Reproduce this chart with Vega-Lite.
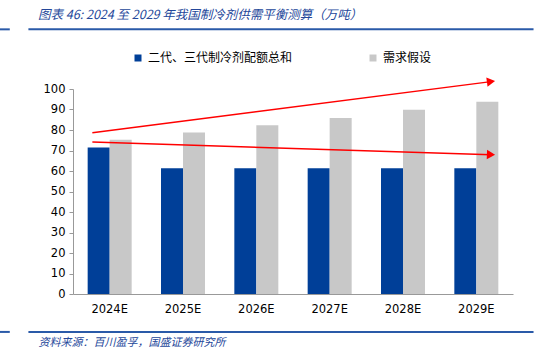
{
  "$schema": "https://vega.github.io/schema/vega-lite/v6.json",
  "width": 440,
  "height": 205,
  "autosize": {"type": "none"},
  "padding": {"left": 73, "top": 89, "right": 21, "bottom": 62},
  "background": "#ffffff",
  "title": {
    "text": "图表 46:  2024 至 2029 年我国制冷剂供需平衡测算（万吨）",
    "anchor": "start",
    "frame": "group",
    "dx": -35,
    "offset": 7,
    "font": "Noto Sans CJK SC",
    "fontSize": 12.5,
    "fontStyle": "italic",
    "fontWeight": "normal",
    "color": "#24479a"
  },
  "datasets": {
    "bars": [
      {"year": "2024E", "series": "二代、三代制冷剂配额总和", "value": 71.5},
      {"year": "2024E", "series": "需求假设", "value": 75.3},
      {"year": "2025E", "series": "二代、三代制冷剂配额总和", "value": 61.3},
      {"year": "2025E", "series": "需求假设", "value": 78.8},
      {"year": "2026E", "series": "二代、三代制冷剂配额总和", "value": 61.3},
      {"year": "2026E", "series": "需求假设", "value": 82.3},
      {"year": "2027E", "series": "二代、三代制冷剂配额总和", "value": 61.3},
      {"year": "2027E", "series": "需求假设", "value": 85.9},
      {"year": "2028E", "series": "二代、三代制冷剂配额总和", "value": 61.3},
      {"year": "2028E", "series": "需求假设", "value": 89.9},
      {"year": "2029E", "series": "二代、三代制冷剂配额总和", "value": 61.3},
      {"year": "2029E", "series": "需求假设", "value": 93.8}
    ],
    "arrows": [
      {"id": "up", "px": 0.264, "py": 78.7},
      {"id": "up", "px": 5.70, "py": 103.6},
      {"id": "down", "px": 0.264, "py": 74.1},
      {"id": "down", "px": 5.70, "py": 67.95}
    ],
    "heads": [
      {"id": "up", "px": 5.70, "py": 103.6, "ang": -7.3},
      {"id": "down", "px": 5.70, "py": 67.95, "ang": 1.8}
    ],
    "rules": [
      {"x1": -1.0, "x2": -0.862, "y": 129.1},
      {"x1": -0.608, "x2": 6.28, "y": 129.1},
      {"x1": -1.0, "x2": -0.862, "y": -18.5},
      {"x1": -0.608, "x2": 6.28, "y": -18.5}
    ]
  },
  "layer": [
    {
      "data": {"name": "bars"},
      "mark": {"type": "bar"},
      "encoding": {
        "x": {
          "field": "year",
          "type": "nominal",
          "scale": {"paddingInner": 0.4, "paddingOuter": 0.2},
          "axis": {
            "title": "资料来源：百川盈孚，国盛证券研究所",
            "titleX": -35,
            "titleY": 48,
            "titleAlign": "left",
            "titleAnchor": null,
            "titleBaseline": "middle",
            "titleFont": "Noto Sans CJK SC",
            "titleFontSize": 11,
            "titleFontStyle": "italic",
            "titleFontWeight": "normal",
            "titleColor": "#24479a",
            "labelAngle": 0,
            "labelFont": "DejaVu Sans",
            "labelFontSize": 11.5,
            "labelColor": "#000000",
            "labelPadding": 9,
            "ticks": false,
            "domainColor": "#999999"
          }
        },
        "xOffset": {"field": "series", "type": "nominal", "sort": ["二代、三代制冷剂配额总和", "需求假设"]},
        "y": {
          "field": "value",
          "type": "quantitative",
          "title": null,
          "scale": {"domain": [0, 100], "nice": false}
        },
        "color": {
          "field": "series",
          "type": "nominal",
          "sort": ["二代、三代制冷剂配额总和", "需求假设"],
          "scale": {"domain": ["二代、三代制冷剂配额总和", "需求假设"], "range": ["#003f98", "#c8c8c8"]},
          "legend": {
            "title": null,
            "orient": "none",
            "legendX": 59,
            "legendY": -37,
            "direction": "horizontal",
            "symbolType": "square",
            "symbolSize": 49,
            "symbolStrokeWidth": 0,
            "labelFont": "Noto Sans CJK SC",
            "labelFontSize": 12,
            "labelColor": "#000000",
            "columnPadding": 74,
            "labelOffset": 4,
            "labelLimit": 300
          }
        }
      }
    },
    {
      "data": {"name": "arrows"},
      "mark": {"type": "line", "color": "#ff0000", "strokeWidth": 1.5},
      "encoding": {
        "x": {"field": "px", "type": "quantitative", "scale": {"domain": [0, 6], "nice": false, "zero": false}, "axis": null},
        "y": {"field": "py", "type": "quantitative", "title": null, "scale": {"domain": [0, 100], "nice": false}},
        "detail": {"field": "id"}
      }
    },
    {
      "data": {"name": "heads"},
      "mark": {"type": "point", "shape": "triangle-right", "filled": true, "color": "#ff0000", "opacity": 1, "size": 90},
      "encoding": {
        "x": {"field": "px", "type": "quantitative", "scale": {"domain": [0, 6], "nice": false, "zero": false}, "axis": null},
        "y": {"field": "py", "type": "quantitative", "title": null, "scale": {"domain": [0, 100], "nice": false}},
        "angle": {"field": "ang", "type": "quantitative", "scale": null}
      }
    },
    {
      "data": {"name": "rules"},
      "mark": {"type": "rule", "color": "#2a5aa8", "strokeWidth": 2},
      "encoding": {
        "x": {"field": "x1", "type": "quantitative", "scale": {"domain": [0, 6], "nice": false, "zero": false}, "axis": null},
        "x2": {"field": "x2"},
        "y": {"field": "y", "type": "quantitative", "title": null, "scale": {"domain": [0, 100], "nice": false}}
      }
    }
  ],
  "resolve": {"scale": {"x": "independent"}},
  "config": {
    "view": {"stroke": null},
    "axisY": {
      "grid": false,
      "tickCount": 10,
      "labelFont": "DejaVu Sans",
      "labelFontSize": 11.5,
      "labelColor": "#000000",
      "domainColor": "#999999",
      "tickColor": "#999999",
      "tickSize": 4,
      "labelPadding": 4
    }
  }
}
